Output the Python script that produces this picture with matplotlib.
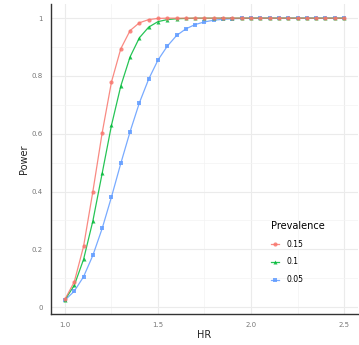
import numpy as np
import matplotlib
matplotlib.use("Agg")
import matplotlib.pyplot as plt
from matplotlib.ticker import FixedLocator

hr = [round(1.0 + 0.05 * i, 2) for i in range(31)]

power_015 = [0.027, 0.087, 0.21, 0.40, 0.603, 0.779, 0.894, 0.957, 0.984, 0.995,
             0.999] + [1.0] * 20
power_010 = [0.025, 0.075, 0.165, 0.298, 0.463, 0.629, 0.765, 0.866, 0.932, 0.969,
             0.988, 0.995, 0.998, 0.999] + [1.0] * 17
power_005 = [0.024, 0.055, 0.105, 0.179, 0.272, 0.381, 0.497, 0.607, 0.707, 0.789,
             0.855, 0.903, 0.940, 0.963, 0.978, 0.987, 0.993, 0.996, 0.998, 0.999] + [1.0] * 11

series = [
    ("0.15", power_015, "#F8766D", "o", 3.0),
    ("0.1", power_010, "#00BA38", "^", 2.9),
    ("0.05", power_005, "#619CFF", "s", 2.4),
]

fig = plt.figure(figsize=(3.59, 3.45), dpi=100)
ax = fig.add_axes([51 / 359, 31 / 345, 307 / 359, 310 / 345])

# draw low prevalence first so the red curve sits on top at the plateau
handles = {}
for z, (label, vals, color, marker, ms) in enumerate(reversed(series)):
    h, = ax.plot(hr, vals, color=color, lw=0.9, marker=marker, ms=ms,
                 markeredgewidth=0, label=label, alpha=0.85, zorder=2 + z)
    handles[label] = h

ax.set_xlim(0.925, 2.575)
ax.set_ylim(-0.024, 1.049)
ax.set_xticks([1.0, 1.5, 2.0, 2.5])
ax.set_xticklabels(["1.0", "1.5", "2.0", "2.5"])
ax.set_yticks([0, 0.2, 0.4, 0.6, 0.8, 1.0])
ax.set_yticklabels(["0", "0.2", "0.4", "0.6", "0.8", "1"])
ax.xaxis.set_minor_locator(FixedLocator([1.25, 1.75, 2.25]))
ax.yaxis.set_minor_locator(FixedLocator([0.1, 0.3, 0.5, 0.7, 0.9]))

ax.grid(True, which="major", color="#EBEBEB", lw=0.8)
ax.grid(True, which="minor", color="#F3F3F3", lw=0.5)
ax.set_axisbelow(True)
ax.tick_params(which="both", length=0, labelsize=5, labelcolor="#777777", pad=6)

for side in ["top", "right"]:
    ax.spines[side].set_visible(False)
for side in ["left", "bottom"]:
    ax.spines[side].set_color("#333333")
    ax.spines[side].set_linewidth(1.0)

ax.set_xlabel("HR", fontsize=7, color="#222222", labelpad=1)
ax.set_ylabel("Power", fontsize=7, color="#222222", labelpad=2)

labels = [s[0] for s in series]
leg = ax.legend([handles[l] for l in labels], labels, title="Prevalence",
                loc="upper left", bbox_to_anchor=(267 / 359, 1 - 217 / 345),
                bbox_transform=fig.transFigure, frameon=False, fontsize=5.5,
                title_fontsize=7, handlelength=1.1, handletextpad=0.9,
                labelspacing=1.15, borderpad=0.0)
leg._legend_box.align = "left"

fig.savefig("out.png", dpi=100)
